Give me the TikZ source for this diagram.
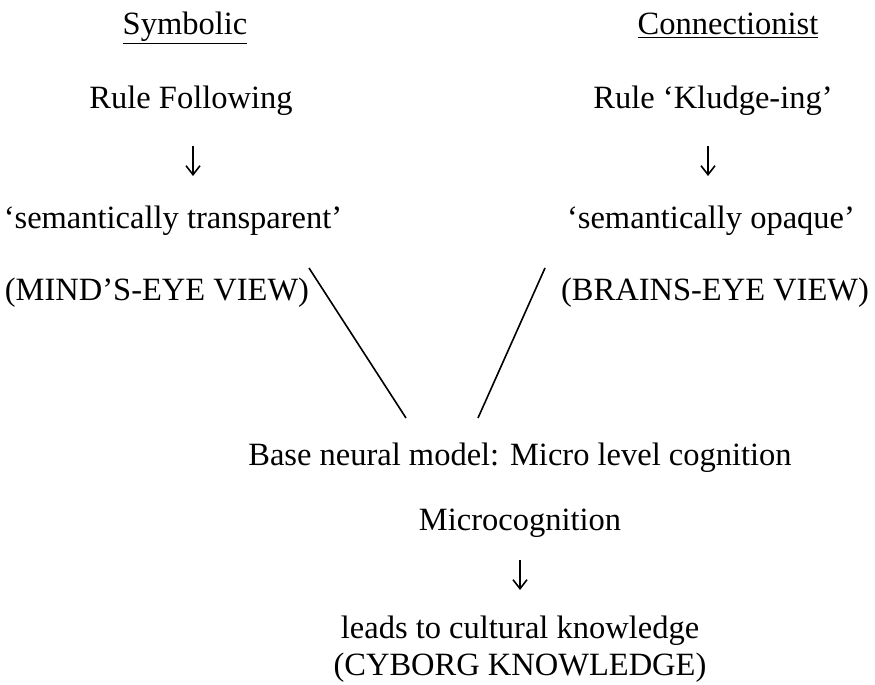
\documentclass[tikz,border=0pt]{standalone}
\usepackage{fontspec}
\setmainfont{Liberation Serif}
\usetikzlibrary{arrows.meta}
\begin{document}
\begin{tikzpicture}[x=1pt,y=-1pt,
  txt/.style={anchor=base,inner sep=0pt,font=\fontsize{32.5}{38}\selectfont},
  head/.style={txt},
  downarrow/.style={line width=1.6pt,-{Straight Barb[length=9pt,width=14pt,line width=1.6pt]}},
  link/.style={line width=1.6pt}]
\useasboundingbox (0,0) rectangle (875,685);
% column headings
\node[head] (sym) at (185,35) {\underline{Symbolic}};
\node[head] (con) at (728,35) {\underline{Connectionist}};
% left column
\node[txt] (rf) at (191,108) {Rule Following};
\node[txt] (st) at (173,228) {`semantically transparent'};
\node[txt] (mind) at (157,300) {(MIND'S-EYE VIEW)};
% right column
\node[txt] (rk) at (713,108) {Rule `Kludge-ing'};
\node[txt] (so) at (711,228) {`semantically opaque'};
\node[txt] (brain) at (715,300) {(BRAINS-EYE VIEW)};
% lower part
\node[txt] (base) at (520,465) {Base neural model: Micro level cognition};
\node[txt] (micro) at (520,530) {Microcognition};
\node[txt] (leads) at (520,638) {leads to cultural knowledge};
\node[txt] (cyb) at (520,675) {(CYBORG KNOWLEDGE)};
% arrows
\coordinate (a1s) at (193,146);
\coordinate (a1e) at (193,176);
\coordinate (a2s) at (708,146);
\coordinate (a2e) at (708,176);
\coordinate (a3s) at (520,560);
\coordinate (a3e) at (520,590);
\draw[downarrow] (a1s) -- (a1e);
\draw[downarrow] (a2s) -- (a2e);
\draw[downarrow] (a3s) -- (a3e);
% converging lines
\coordinate (lt) at (309,268);
\coordinate (lb) at (406,418);
\coordinate (rt) at (545,268);
\coordinate (rb) at (478,418);
\draw[link] (lt) -- (lb);
\draw[link] (rt) -- (rb);
\end{tikzpicture}
\end{document}
